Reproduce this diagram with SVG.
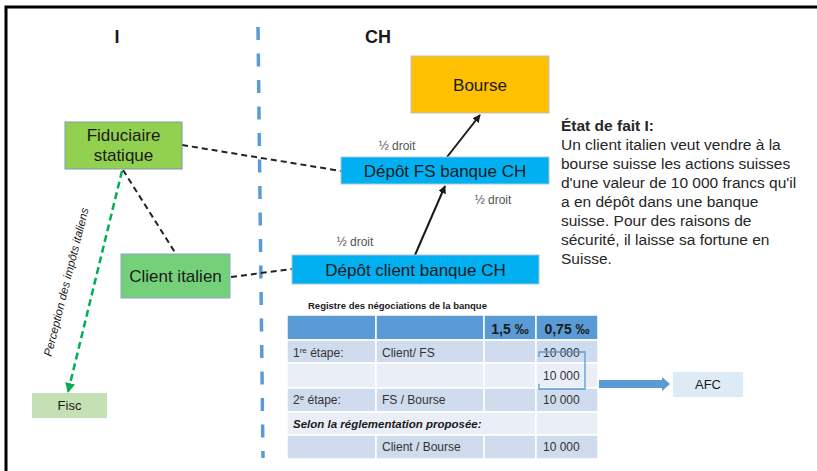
<svg xmlns="http://www.w3.org/2000/svg" width="817" height="471" viewBox="0 0 817 471">
<defs>
<style>
.t{font-family:"Liberation Sans",Arial,sans-serif;fill:#1a1a1a}
.node{font-size:17px;text-anchor:middle}
.lab{font-size:12px;fill:#555}
.tb{font-size:12px;fill:#333}
.dash{fill:none;stroke:#222;stroke-width:2;stroke-dasharray:6 4}
.solid{fill:none;stroke:#1a1a1a;stroke-width:2}
.cd{fill:#CFDCEE;stroke:#fff;stroke-width:1.5}
.cl{fill:#E9EEF7;stroke:#fff;stroke-width:1.5}
.ch{fill:#5B9BD5;stroke:#fff;stroke-width:1.5}
.right{font-size:15.5px;fill:#262626}
</style>
<marker id="ah" viewBox="0 0 10 10" refX="9" refY="5" markerWidth="4" markerHeight="4" orient="auto">
<path d="M0,0 L10,5 L0,10 z" fill="#1a1a1a"/>
</marker>
<marker id="ag" viewBox="0 0 10 10" refX="9" refY="5" markerWidth="4" markerHeight="4" orient="auto">
<path d="M0,0 L10,5 L0,10 z" fill="#00B050"/>
</marker>
</defs>
<rect x="0" y="0" width="817" height="471" fill="#fff"/>
<!-- frame -->
<path d="M6,471 V7 H817" fill="none" stroke="#000" stroke-width="3"/>
<!-- headings -->
<text class="t" x="117" y="43" font-size="18" font-weight="bold" text-anchor="middle">I</text>
<text class="t" x="378" y="43" font-size="18" font-weight="bold" text-anchor="middle">CH</text>
<!-- border separator -->
<line x1="258" y1="27" x2="263" y2="458" stroke="#5B9BD5" stroke-width="3.5" stroke-dasharray="13 13.5"/>

<g id="connectors">
<line class="dash" x1="182" y1="145" x2="341" y2="171"/>
<line class="dash" x1="123" y1="170" x2="176" y2="254"/>
<line class="dash" x1="231" y1="277" x2="292" y2="269"/>
<line x1="122" y1="171" x2="68" y2="392" fill="none" stroke="#00B050" stroke-width="2.5" stroke-dasharray="7 4" marker-end="url(#ag)"/>
<line class="solid" x1="415" y1="255" x2="445" y2="186" marker-end="url(#ah)"/>
<line class="solid" x1="447" y1="157" x2="480" y2="115" marker-end="url(#ah)"/>
<text class="t lab" x="397" y="150" text-anchor="middle">½ droit</text>
<text class="t lab" x="493" y="204" text-anchor="middle">½ droit</text>
<text class="t lab" x="355" y="246" text-anchor="middle">½ droit</text>
<text class="t" font-size="11.5" font-style="italic" fill="#404040" text-anchor="middle" transform="translate(70,283) rotate(-75.8)">Perception des impôts italiens</text>
<path d="M599,380 H662 V377 L670,384 L662,391 V388 H599 z" fill="#5B9BD5"/>
</g>

<g id="fiduciaire">
<rect x="65" y="122" width="117" height="47" fill="#92D050" stroke="#7a9bb5" stroke-width="1"/>
<text class="t node" x="123.5" y="141">Fiduciaire</text>
<text class="t node" x="123.5" y="161">statique</text>
</g>
<g id="client-italien">
<rect x="121" y="254" width="109" height="44" fill="#74D17A" stroke="#8aa8c0" stroke-width="1"/>
<text class="t node" x="175.5" y="282">Client italien</text>
</g>
<g id="fisc">
<rect x="32" y="393" width="75" height="25" fill="#C5E0B4"/>
<text class="t" x="69.5" y="410" font-size="13" text-anchor="middle" fill="#262626">Fisc</text>
</g>
<g id="bourse">
<rect x="411" y="56" width="138" height="57" fill="#FFC000" stroke="#b9c4cf" stroke-width="1"/>
<text class="t node" x="480" y="91">Bourse</text>
</g>
<g id="depot-fs">
<rect x="341" y="157" width="208" height="27" fill="#00B0F0" stroke="#a9c6dc" stroke-width="1"/>
<text class="t node" x="445" y="177">Dépôt FS banque CH</text>
</g>
<g id="depot-client">
<rect x="292" y="255" width="247" height="29" fill="#00B0F0" stroke="#a9c6dc" stroke-width="1"/>
<text class="t node" x="415.5" y="276">Dépôt client banque CH</text>
</g>
<g id="afc">
<rect x="673" y="372" width="70" height="25" fill="#DDEBF7"/>
<text class="t" x="708" y="389" font-size="13" text-anchor="middle" fill="#262626">AFC</text>
</g>

<g id="etat-de-fait">
<text class="t right" x="561" y="131" font-weight="bold" fill="#1a1a1a">État de fait I:</text>
<text class="t right" x="561" y="150">Un client italien veut vendre à la</text>
<text class="t right" x="561" y="169">bourse suisse les actions suisses</text>
<text class="t right" x="561" y="188">d'une valeur de 10 000 francs qu'il</text>
<text class="t right" x="561" y="207">a en dépôt dans une banque</text>
<text class="t right" x="561" y="226">suisse. Pour des raisons de</text>
<text class="t right" x="561" y="245">sécurité, il laisse sa fortune en</text>
<text class="t right" x="561" y="264">Suisse.</text>
</g>

<g id="registre">
<text class="t" x="308" y="309" font-size="9.5" font-weight="bold">Registre des négociations de la banque</text>
<rect class="ch" x="287" y="315" width="89" height="25"/>
<rect class="ch" x="376" y="315" width="108" height="25"/>
<rect class="ch" x="484" y="315" width="52" height="25"/>
<rect class="ch" x="536" y="315" width="62" height="25"/>
<rect class="cd" x="287" y="340" width="89" height="23"/>
<rect class="cd" x="376" y="340" width="108" height="23"/>
<rect class="cd" x="484" y="340" width="52" height="23"/>
<rect class="cd" x="536" y="340" width="62" height="23"/>
<rect class="cl" x="287" y="363" width="89" height="25"/>
<rect class="cl" x="376" y="363" width="108" height="25"/>
<rect class="cl" x="484" y="363" width="52" height="25"/>
<rect class="cl" x="536" y="363" width="62" height="25"/>
<rect class="cd" x="287" y="388" width="89" height="24"/>
<rect class="cd" x="376" y="388" width="108" height="24"/>
<rect class="cd" x="484" y="388" width="52" height="24"/>
<rect class="cd" x="536" y="388" width="62" height="24"/>
<rect class="cl" x="287" y="412" width="249" height="23"/>
<rect class="cl" x="536" y="412" width="62" height="23"/>
<rect class="cd" x="287" y="435" width="89" height="24"/>
<rect class="cd" x="376" y="435" width="108" height="24"/>
<rect class="cd" x="484" y="435" width="52" height="24"/>
<rect class="cd" x="536" y="435" width="62" height="24"/>
<text class="t" x="510" y="334" font-size="14" font-weight="bold" text-anchor="middle">1,5 ‰</text>
<text class="t" x="567" y="334" font-size="14" font-weight="bold" text-anchor="middle">0,75 ‰</text>
<text class="t tb" x="293" y="357">1<tspan font-size="8" dy="-4">re</tspan><tspan dy="4"> étape:</tspan></text>
<text class="t tb" x="382" y="357">Client/ FS</text>
<text class="t tb" x="543" y="357">10 000</text>
<text class="t tb" x="543" y="380">10 000</text>
<text class="t tb" x="293" y="404">2<tspan font-size="8" dy="-4">e</tspan><tspan dy="4"> étape:</tspan></text>
<text class="t tb" x="382" y="404">FS / Bourse</text>
<text class="t tb" x="543" y="404">10 000</text>
<text class="t" x="293" y="428" font-size="11.5" font-weight="bold" font-style="italic" fill="#1a1a1a">Selon la réglementation  proposée:</text>
<text class="t tb" x="382" y="451">Client / Bourse</text>
<text class="t tb" x="543" y="451">10 000</text>
<path d="M539,357 V352 H585 V389 H539 V384" fill="none" stroke="#5B9BD5" stroke-width="1.3"/>
</g>
</svg>
